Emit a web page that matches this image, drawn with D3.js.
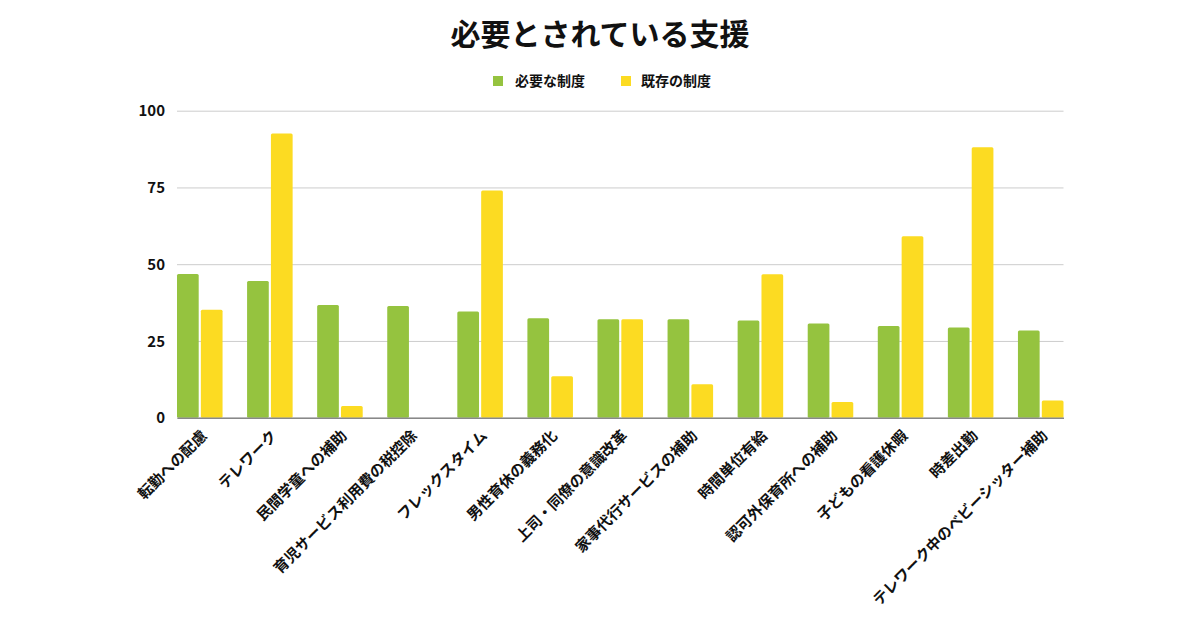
<!DOCTYPE html>
<html><head><meta charset="utf-8">
<script src="https://cdn.jsdelivr.net/npm/d3@7"></script>
<style>
body{margin:0;background:#fff;}
text{font-family:"Noto Sans CJK JP","Noto Sans",sans-serif;}
</style></head>
<body><svg id="c" width="1200" height="630"></svg>
<script>
const categories = ["転勤への配慮","テレワーク","民間学童への補助","育児サービス利用費の税控除","フレックスタイム","男性育休の義務化","上司・同僚の意識改革","家事代行サービスの補助","時間単位有給","認可外保育所への補助","子どもの看護休暇","時差出勤","テレワーク中のベビーシッター補助"];
const needed = [46.8,44.5,36.7,36.4,34.6,32.4,32.1,32.1,31.7,30.7,29.9,29.4,28.4];
const existing = [35.2,92.6,3.8,0,74.0,13.5,32.1,10.9,46.7,5.1,59.1,88.1,5.6];
const seriesNames = ["必要な制度","既存の制度"];
const colors = ["#95c33f","#fcdb22"];
const yTicks = [0,25,50,75,100];
const title = "必要とされている支援";

const svg = d3.select("#c");
const mLeft = 177, mRight = 1063.5, mTop = 110.7, mBottom = 417.7;
const x = d3.scaleBand().domain(categories).range([mLeft,mRight]).paddingInner(0.35).paddingOuter(0);
const xs = d3.scaleBand().domain([0,1]).range([0,x.bandwidth()]).paddingInner(0.09);
const y = d3.scaleLinear().domain([0,100]).range([mBottom,mTop]);

svg.append("text").attr("x",600).attr("y",45).attr("text-anchor","middle")
  .attr("font-size",30).attr("font-weight",700).attr("fill","#111").text(title);

// legend
const leg = [{x:493,tx:515},{x:621,tx:641}];
seriesNames.forEach((n,i)=>{
  svg.append("rect").attr("x",leg[i].x).attr("y",76).attr("width",10).attr("height",10).attr("fill",colors[i]);
  svg.append("text").attr("x",leg[i].tx).attr("y",86).attr("font-size",14).attr("font-weight",700).attr("fill","#111").text(n);
});

// grid
const ya = svg.append("g").attr("transform",`translate(${mLeft},0)`)
  .call(d3.axisLeft(y).tickValues(yTicks).tickSize(-(mRight-mLeft)).tickPadding(12));
ya.select(".domain").remove();
ya.selectAll(".tick line").attr("stroke","#cccccc").attr("stroke-width",1);
ya.selectAll(".tick text").attr("font-size",15).attr("font-weight",700).attr("fill","#111")
  .attr("font-family","'Open Sans','Noto Sans',sans-serif").attr("dy","0.35em");

const data = categories.map((c,i)=>({c, v:[needed[i],existing[i]]}));
const g = svg.append("g");
data.forEach(d=>{
  d.v.forEach((v,j)=>{
    if(v<=0) return;
    g.append("rect").attr("x",x(d.c)+xs(j)).attr("y",y(v)).attr("width",xs.bandwidth())
      .attr("height",y(0)-y(v)).attr("fill",colors[j]).attr("rx",1.5);
  });
});

// baseline
const xa = svg.append("g").attr("transform",`translate(0,${mBottom})`)
  .call(d3.axisBottom(x).tickSize(0).tickPadding(0));
xa.select(".domain").attr("stroke","#888").attr("stroke-width",1.5);
xa.selectAll(".tick text").attr("font-size",15).attr("font-weight",700).attr("fill","#111")
  .attr("text-anchor","end").attr("dy",0)
  .attr("transform","translate(8,19) rotate(-45)");
</script></body></html>
